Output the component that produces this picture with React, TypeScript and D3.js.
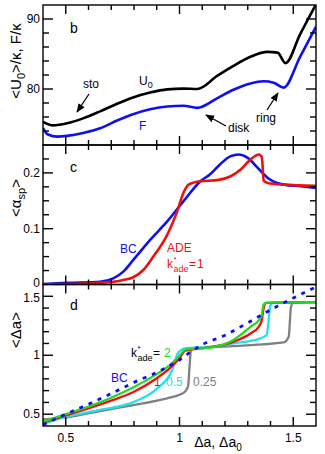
import React from "react";
import * as d3 from "d3";

// ---------- data ----------
type P = [number, number];

// panel b
const u0Series: P[] = [
  [0.4, 75.3], [0.444, 74.8], [0.506, 75.1], [0.576, 75.8], [0.651, 76.8],
  [0.726, 77.9], [0.796, 78.8], [0.871, 79.5], [0.946, 79.95], [1.017, 80.05],
  [1.078, 80.0], [1.167, 81.9], [1.237, 83.3], [1.312, 84.6], [1.387, 85.3],
  [1.431, 85.2], [1.466, 83.7], [1.53, 87.8], [1.6, 92.1],
];
const fSeries: P[] = [
  [0.4, 74.4], [0.422, 73.5], [0.462, 73.2], [0.506, 73.3], [0.576, 73.7],
  [0.651, 74.4], [0.726, 75.5], [0.796, 76.4], [0.871, 77.1], [0.946, 77.5],
  [1.017, 77.6], [1.078, 77.3], [1.167, 78.7], [1.237, 79.9], [1.312, 80.8],
  [1.37, 81.1], [1.414, 80.9], [1.458, 80.2], [1.53, 84.6], [1.6, 88.9],
];

// panel c
const bcAlpha: P[] = [
  [0.4, 0.001], [0.506, 0.003], [0.651, 0.005], [0.709, 0.011], [0.753, 0.023],
  [0.797, 0.044], [0.871, 0.08], [0.946, 0.113], [1.017, 0.149], [1.092, 0.185],
  [1.136, 0.198], [1.18, 0.216], [1.225, 0.23], [1.26, 0.233], [1.3, 0.227],
  [1.344, 0.209], [1.388, 0.191], [1.458, 0.179], [1.533, 0.176], [1.6, 0.173],
];
const adeAlpha: P[] = [
  [0.4, 0.0], [0.651, 0.003], [0.753, 0.008], [0.797, 0.013], [0.841, 0.026],
  [0.885, 0.05], [0.946, 0.089], [0.99, 0.131], [1.017, 0.164], [1.04, 0.179],
  [1.092, 0.185], [1.167, 0.187], [1.225, 0.194], [1.269, 0.206], [1.312, 0.224],
  [1.35, 0.233], [1.362, 0.228], [1.37, 0.186], [1.388, 0.182], [1.458, 0.179],
  [1.6, 0.177],
];

// panel d
const bcDa: P[] = [
  [0.4, 0.41], [0.5, 0.5], [0.6, 0.585], [0.7, 0.675], [0.8, 0.77], [0.9, 0.855],
  [1.0, 0.96], [1.05, 1.03], [1.1, 1.09], [1.2, 1.17], [1.3, 1.275], [1.4, 1.385],
  [1.5, 1.485], [1.6, 1.58],
];
const k2Da: P[] = [
  [0.4, 0.436], [0.5, 0.5], [0.6, 0.565], [0.7, 0.64], [0.8, 0.73], [0.9, 0.84],
  [0.95, 0.905], [0.99, 0.975], [1.03, 1.05], [1.092, 1.058], [1.167, 1.078],
  [1.237, 1.13], [1.312, 1.24], [1.35, 1.3], [1.362, 1.34], [1.368, 1.42],
  [1.378, 1.445], [1.6, 1.45],
];
const k1Da: P[] = [
  [0.4, 0.428], [0.5, 0.49], [0.6, 0.55], [0.7, 0.615], [0.8, 0.69], [0.9, 0.805],
  [0.96, 0.895], [1.0, 0.975], [1.026, 1.04], [1.092, 1.058], [1.237, 1.114],
  [1.312, 1.185], [1.348, 1.241], [1.362, 1.3], [1.37, 1.4], [1.38, 1.445],
  [1.6, 1.45],
];
const k05Da: P[] = [
  [0.4, 0.417], [0.5, 0.478], [0.651, 0.536], [0.8, 0.605], [0.9, 0.715],
  [0.968, 0.875], [0.995, 1.025], [1.035, 1.062], [1.092, 1.065], [1.237, 1.1],
  [1.356, 1.143], [1.383, 1.171], [1.392, 1.3], [1.398, 1.411], [1.41, 1.445],
  [1.6, 1.45],
];
const k025Da: P[] = [
  [0.4, 0.457], [0.506, 0.474], [0.651, 0.527], [0.797, 0.578], [0.946, 0.635],
  [1.0, 0.665], [1.026, 0.695], [1.038, 0.74], [1.044, 0.9], [1.05, 1.04],
  [1.062, 1.06], [1.092, 1.063], [1.237, 1.078], [1.458, 1.109], [1.48, 1.157],
  [1.49, 1.411], [1.5, 1.445], [1.6, 1.45],
];

const xDomain: [number, number] = [0.4, 1.6];
const xMajor = [0.5, 1, 1.5];
const xTickLabels = ["0.5", "1", "1.5"];

const bDomain: [number, number] = [72, 92];
const bMajor = [80, 90];
const bMinorStep = 2;
const cDomain: [number, number] = [0, 0.25];
const cMajor = [0, 0.1, 0.2];
const cMajorLabels = ["0", "0.1", "0.2"];
const cMinorStep = 0.025;
const dDomain: [number, number] = [0.4, 1.6];
const dMajor = [0.5, 1, 1.5];
const dMajorLabels = ["0.5", "1", "1.5"];
const dMinorStep = 0.1;

// ---------- layout ----------
const W = 325;
const H = 454;
const L = 43;
const R = 316;
const FONT = "'Liberation Sans', Arial, Helvetica, sans-serif";
const BLUE = "#1010ee";
const RED = "#ee1010";
const GREEN = "#22d822";
const CYAN = "#22e0f0";
const GRAY = "#808080";

const x = d3.scaleLinear().domain(xDomain).range([L, R]);
const yB = d3.scaleLinear().domain(bDomain).range([145, 5]);
const yC = d3.scaleLinear().domain(cDomain).range([284.5, 145]);
const yD = d3.scaleLinear().domain(dDomain).range([426, 284.5]);

function mkLine(y: d3.ScaleLinear<number, number>) {
  return d3
    .line<P>()
    .x((d) => x(d[0]))
    .y((d) => y(d[1]))
    .curve(d3.curveMonotoneX);
}

function range(a: number, b: number, s: number) {
  const out: number[] = [];
  for (let v = a; v <= b + 1e-9; v += s) out.push(+v.toFixed(6));
  return out;
}

const xMinorTicks = range(0.4, 1.6, 0.1);

function Frame({
  y,
  minorStep,
  major,
}: {
  y: d3.ScaleLinear<number, number>;
  minorStep: number;
  major: number[];
}) {
  const [d0, d1] = y.domain();
  const top = y(d1);
  const bot = y(d0);
  const yMin = range(Math.ceil(d0 / minorStep - 1e-9) * minorStep, d1, minorStep);
  const isMajX = (v: number) => xMajor.some((m) => Math.abs(m - v) < 1e-6);
  const isMajY = (v: number) => major.some((m) => Math.abs(m - v) < 1e-6);
  const els: React.ReactNode[] = [];
  xMinorTicks.forEach((v, i) => {
    if (v <= xDomain[0] + 1e-6 || v >= xDomain[1] - 1e-6) return;
    const len = isMajX(v) ? 9 : 5;
    els.push(
      <line key={"xb" + i} x1={x(v)} x2={x(v)} y1={bot} y2={bot - len} />,
      <line key={"xt" + i} x1={x(v)} x2={x(v)} y1={top} y2={top + len} />
    );
  });
  yMin.forEach((v, i) => {
    const py = y(v);
    if (py <= top + 0.5 || py >= bot - 0.5) return;
    const len = isMajY(v) ? 10 : 6;
    els.push(
      <line key={"yl" + i} x1={L} x2={L + len} y1={py} y2={py} />,
      <line key={"yr" + i} x1={R} x2={R - len} y1={py} y2={py} />
    );
  });
  return (
    <g stroke="#000" strokeWidth={1.4} fill="none">
      {els}
      <rect x={L} y={top} width={R - L} height={bot - top} />
    </g>
  );
}

function KAde({ x0, y0, fill, value, valueFill }: { x0: number; y0: number; fill: string; value: string; valueFill?: string }) {
  return (
    <g fontSize={12} fill={fill}>
      <text x={x0} y={y0}>k</text>
      <text x={x0 + 6.5} y={y0 - 6} fontSize={8}>*</text>
      <text x={x0 + 6.5} y={y0 + 4} fontSize={9}>ade</text>
      <text x={x0 + 22} y={y0}>=</text>
      <text x={x0 + (valueFill ? 33 : 30)} y={y0} fill={valueFill || fill}>{value}</text>
    </g>
  );
}

export default function App() {
  const lb = mkLine(yB);
  const lc = mkLine(yC);
  const ld = mkLine(yD);
  const tickFs = 12;
  return (
    <svg width={W} height={H} style={{ display: "block", position: "absolute", left: 0, top: 0 }} fontFamily={FONT}>
      <defs>
        <marker id="arr" viewBox="0 0 10 10" refX="9" refY="5" markerWidth="7" markerHeight="7" orient="auto">
          <path d="M0,1 L10,5 L0,9 z" fill="#000" />
        </marker>
        <clipPath id="clipB"><rect x={L} y={5} width={R - L} height={140} /></clipPath>
        <clipPath id="clipC"><rect x={L} y={145} width={R - L} height={139.5} /></clipPath>
        <clipPath id="clipD"><rect x={L} y={284.5} width={R - L} height={141.5} /></clipPath>
      </defs>
      <rect width={W} height={H} fill="#fff" />

      {/* panel b */}
      <g clipPath="url(#clipB)" fill="none" strokeWidth={2.6} strokeLinejoin="round">
        <path d={lb(u0Series) || ""} stroke="#000" />
        <path d={lb(fSeries) || ""} stroke={BLUE} />
      </g>
      {/* panel c */}
      <g clipPath="url(#clipC)" fill="none" strokeWidth={2.6} strokeLinejoin="round">
        <path d={lc(bcAlpha) || ""} stroke={BLUE} />
        <path d={lc(adeAlpha) || ""} stroke={RED} />
      </g>
      {/* panel d */}
      <g clipPath="url(#clipD)" fill="none" strokeWidth={2.3} strokeLinejoin="round">
        <path d={ld(k025Da) || ""} stroke={GRAY} />
        <path d={ld(k05Da) || ""} stroke={CYAN} />
        <path d={ld(k1Da) || ""} stroke={RED} />
        <path d={ld(k2Da) || ""} stroke={GREEN} />
        <path d={ld(bcDa) || ""} stroke={BLUE} strokeWidth={2.8} strokeDasharray="4,6" />
      </g>

      <Frame y={yB} minorStep={bMinorStep} major={bMajor} />
      <Frame y={yC} minorStep={cMinorStep} major={cMajor} />
      <Frame y={yD} minorStep={dMinorStep} major={dMajor} />

      {/* y tick labels */}
      <g fontSize={tickFs} textAnchor="end" fill="#000">
        {bMajor.map((v) => (
          <text key={"b" + v} x={40} y={yB(v) + 4}>{v}</text>
        ))}
        {cMajor.map((v, i) => (
          <text key={"c" + v} x={40} y={yC(v) + (v === 0 ? 2.5 : 4)}>{cMajorLabels[i]}</text>
        ))}
        {dMajor.map((v, i) => (
          <text key={"d" + v} x={40} y={yD(v) + (v === 1.5 ? 5.5 : 4)}>{dMajorLabels[i]}</text>
        ))}
      </g>
      {/* x tick labels */}
      <g fontSize={tickFs} textAnchor="middle" fill="#000">
        {xMajor.map((v, i) => (
          <text key={"x" + v} x={x(v)} y={442}>{xTickLabels[i]}</text>
        ))}
      </g>
      {/* axis titles */}
      <text x={218} y={447} fontSize={14} textAnchor="middle">
        Δa, Δa<tspan fontSize={10} dy={4}>0</tspan>
      </text>
      <text transform="translate(21,61) rotate(-90)" fontSize={15} textAnchor="middle">
        &lt;U<tspan fontSize={11} dy={4}>0</tspan><tspan dy={-4}>&gt;/κ, F/κ</tspan>
      </text>
      <text transform="translate(21,198) rotate(-90)" fontSize={15} textAnchor="middle">
        &lt;α<tspan fontSize={11} dy={4}>sp</tspan><tspan dy={-4}>&gt;</tspan>
      </text>
      <text transform="translate(21,330) rotate(-90)" fontSize={15} textAnchor="middle">
        &lt;Δa&gt;
      </text>

      {/* panel labels */}
      <g fontSize={14} fill="#000">
        <text x={70} y={33}>b</text>
        <text x={70} y={172}>c</text>
        <text x={70} y={310}>d</text>
      </g>

      {/* panel b annotations */}
      <g fontSize={12}>
        <text x={83} y={88}>sto</text>
        <text x={139} y={85}>U<tspan fontSize={9} dy={3}>0</tspan></text>
        <text x={139} y={130} fill={BLUE}>F</text>
        <text x={228} y={132}>disk</text>
        <text x={256} y={122}>ring</text>
      </g>
      <g stroke="#000" strokeWidth={1.3} markerEnd="url(#arr)">
        <line x1={89} x2={77} y1={94} y2={112} />
        <line x1={226} x2={206} y1={126} y2={115} />
        <line x1={267} x2={278} y1={110} y2={93} />
      </g>

      {/* panel c annotations */}
      <g fontSize={12}>
        <text x={120} y={253} fill={BLUE}>BC</text>
        <text x={167} y={252} fill={RED}>ADE</text>
      </g>
      <KAde x0={167} y0={268} fill={RED} value="1" />

      {/* panel d annotations */}
      <KAde x0={131} y0={357} fill="#000" value="2" valueFill={GREEN} />
      <g fontSize={12}>
        <text x={111} y={382} fill={BLUE}>BC</text>
        <text x={154} y={386} fill={RED}>1</text>
        <text x={166} y={386} fill={CYAN}>0.5</text>
        <text x={193} y={386} fill={GRAY}>0.25</text>
      </g>
    </svg>
  );
}
